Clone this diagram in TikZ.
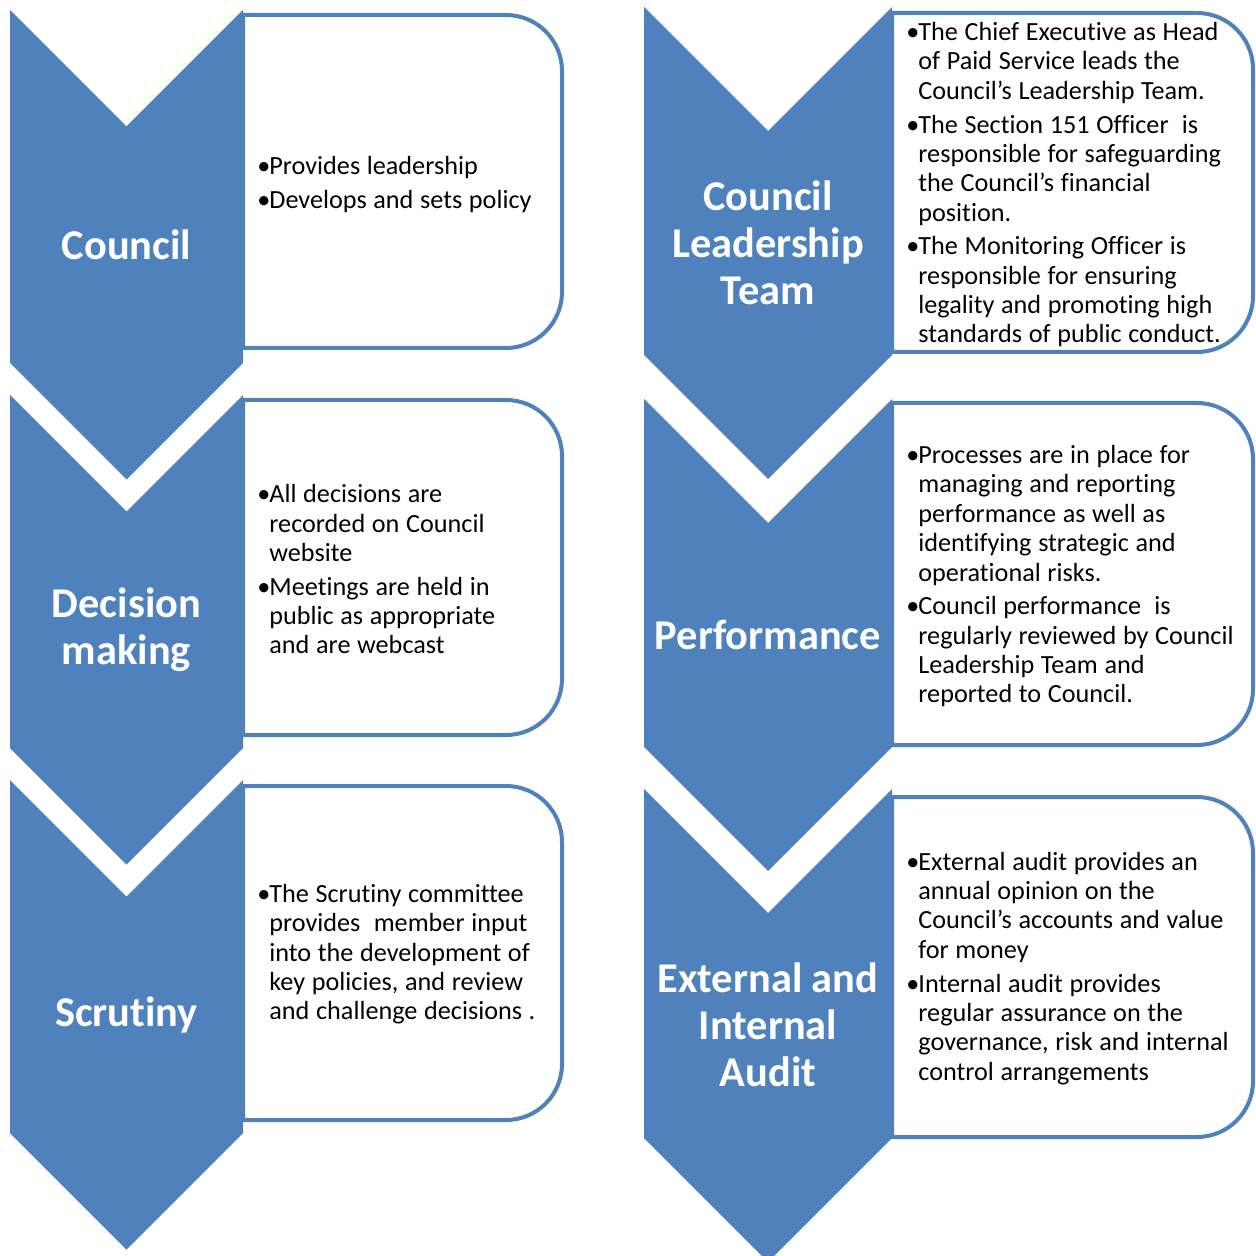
\documentclass[tikz,border=0pt]{standalone}
\usepackage{fontspec}
\setmainfont{Carlito}[Ligatures=NoCommon]
\definecolor{accent}{HTML}{4F81BD}
\newcommand\mychev[5]{% L,R,T,S,h
  \fill[chev] (#1,#3) -- ({(#1+#2)/2},{#3+#5}) -- (#2,#3) -- (#2,#4) -- ({(#1+#2)/2},{#4+#5}) -- (#1,#4) -- cycle;}
\newcommand\mybox[4]{% L,R,T,B
  \draw[box] (#1,#3) -- ({#2-56},#3) arc[start angle=-90,end angle=0,radius=56] -- (#2,{#4-56}) arc[start angle=0,end angle=90,radius=56] -- (#1,#4) -- cycle;}
\newcommand\bitem[1]{\par\noindent\hangindent=6pt\relax\hangafter=1\relax\makebox[6pt][l]{\textbullet}#1\par}
\newcommand\txtsetup{\fontsize{13.1}{14.68}\selectfont\raggedright\setlength{\parskip}{2.2pt}}
\begin{document}
\begin{tikzpicture}[x=0.5pt,y=-0.5pt,
  chev/.style={fill=accent},
  box/.style={draw=accent,line width=2pt,fill=white},
  lab/.style={text=white,font=\fontsize{21.2}{23.5}\selectfont\bfseries,align=center,inner sep=0},
  txt/.style={anchor=west,inner sep=0,text width=#1}]
\useasboundingbox (0,0) rectangle (1256,1256);
% boxes (behind chevrons)
\mybox{243}{562}{15}{348}
\mybox{243}{562}{400}{735}
\mybox{243}{562}{786}{1120}
\mybox{892}{1253}{13}{352}
\mybox{892}{1253}{403}{745}
\mybox{892}{1253}{797}{1137}
% chevrons
\mychev{10}{243}{10}{363}{116.5}
\mychev{10}{243}{395}{748}{116.5}
\mychev{10}{243}{780}{1133}{116.5}
\mychev{644}{892}{7}{355}{124}
\mychev{644}{892}{399}{747}{124}
\mychev{644}{892}{789}{1138}{124}
% labels
\node[lab] (lc) at (126.5,245) {Council};
\node[lab] (ld) at (126.5,630) {Decision\\making};
\node[lab] (ls) at (126.5,1015) {Scrutiny};
\node[lab] (rl) at (768,243) {Council\\Leadership\\Team};
\node[lab] (rp) at (768,635) {Performance};
\node[lab] (ra) at (768,1025) {External and\\Internal\\Audit};
% texts
\node[txt=155pt] (tc) at (257,176.5) {\txtsetup\bitem{Provides leadership}\bitem{Develops and sets policy}};
\node[txt=155pt] (td) at (257,561.5) {\txtsetup\bitem{All decisions are\newline recorded on Council\newline website}\bitem{Meetings are held in\newline public as appropriate\newline and are webcast}};
\node[txt=155pt] (ts) at (257,946.5) {\txtsetup\bitem{The Scrutiny committee\newline provides~ member input\newline into the development of\newline key policies, and review\newline and challenge decisions .}};
\node[txt=178pt] (tl) at (906,177) {\txtsetup\bitem{The Chief Executive as Head\newline of Paid Service leads the\newline Council’s Leadership Team.}\bitem{The Section 151 Officer~ is\newline responsible for safeguarding\newline the Council’s financial\newline position.}\bitem{The Monitoring Officer is\newline responsible for ensuring\newline legality and promoting high\newline standards of public conduct.}};
\node[txt=178pt] (tp) at (906,568.5) {\txtsetup\bitem{Processes are in place for\newline managing and reporting\newline performance as well as\newline identifying strategic and\newline operational risks.}\bitem{Council performance~ is\newline regularly reviewed by Council\newline Leadership Team and\newline reported to Council.}};
\node[txt=178pt] (ta) at (906,960.5) {\txtsetup\bitem{External audit provides an\newline annual opinion on the\newline Council’s accounts and value\newline for money}\bitem{Internal audit provides\newline regular assurance on the\newline governance, risk and internal\newline control arrangements}};
\end{tikzpicture}
\end{document}
